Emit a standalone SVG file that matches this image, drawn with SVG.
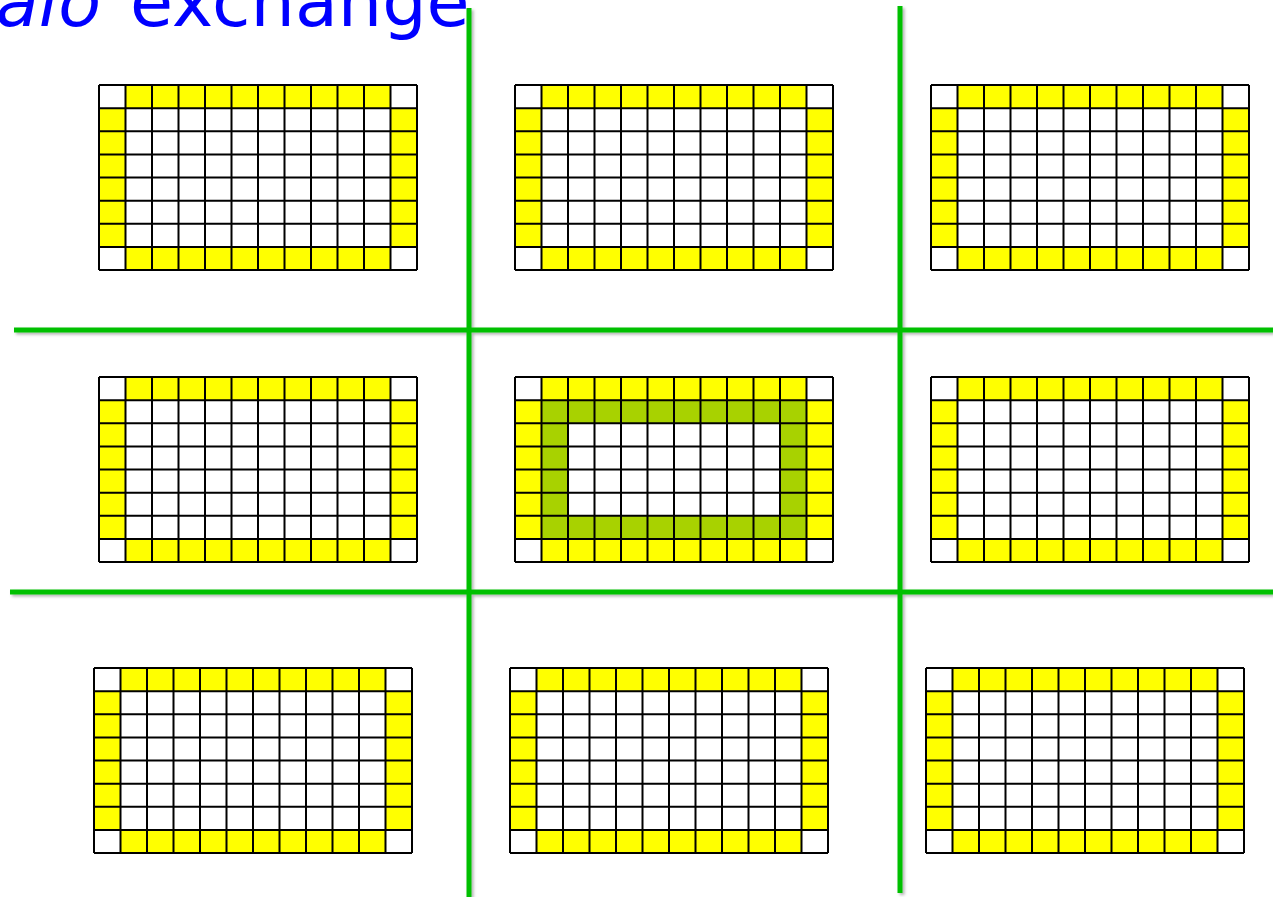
<svg xmlns="http://www.w3.org/2000/svg" xmlns:xlink="http://www.w3.org/1999/xlink" width="1273" height="897" viewBox="0 0 1273 897">
<style>
.title{font-family:"DejaVu Sans",Verdana,sans-serif;font-size:70px;fill:#0000FF}
.y{fill:#FFFF00}
.g{fill:#A8D200}
.grid{fill:none;stroke:#000;stroke-width:2}
.div{stroke:#00C000;stroke-width:5;fill:none}
</style>
<defs>
<filter id="sh" x="-5%" y="-5%" width="110%" height="110%">
<feDropShadow dx="2" dy="2" stdDeviation="1.5" flood-color="#000" flood-opacity="0.3"/>
</filter>
<g id="base">
<rect x="0" y="0" width="318" height="185" fill="#fff"/>
<rect class="y" x="26.5" y="0" width="265" height="23.125"/>
<rect class="y" x="26.5" y="161.875" width="265" height="23.125"/>
<rect class="y" x="0" y="23.125" width="26.5" height="138.75"/>
<rect class="y" x="291.5" y="23.125" width="26.5" height="138.75"/>
</g>
<path id="gridlines" class="grid" d="M0 0V185M26.5 0V185M53 0V185M79.5 0V185M106 0V185M132.5 0V185M159 0V185M185.5 0V185M212 0V185M238.5 0V185M265 0V185M291.5 0V185M318 0V185M0 0H318M0 23.125H318M0 46.25H318M0 69.375H318M0 92.5H318M0 115.625H318M0 138.75H318M0 161.875H318M0 185H318"/>
</defs>
<g id="title">
<text class="title" x="101" y="26" text-anchor="end" font-style="italic">halo</text>
<text class="title" x="130" y="26">exchange</text>
</g>
<g id="dividers" filter="url(#sh)">
<line class="div" x1="469" y1="8" x2="469" y2="897"/>
<line class="div" x1="900" y1="6" x2="900" y2="893"/>
<line class="div" x1="14" y1="330" x2="1273" y2="330"/>
<line class="div" x1="10" y1="592" x2="1273" y2="592"/>
</g>
<g id="p11" transform="translate(99,85)"><use xlink:href="#base"/><use xlink:href="#gridlines"/></g>
<g id="p12" transform="translate(515,85)"><use xlink:href="#base"/><use xlink:href="#gridlines"/></g>
<g id="p13" transform="translate(931,85)"><use xlink:href="#base"/><use xlink:href="#gridlines"/></g>
<g id="p21" transform="translate(99,377)"><use xlink:href="#base"/><use xlink:href="#gridlines"/></g>
<g id="p22" transform="translate(515,377)"><use xlink:href="#base"/>
<rect class="g" x="26.5" y="23.125" width="265" height="23.125"/>
<rect class="g" x="26.5" y="138.75" width="265" height="23.125"/>
<rect class="g" x="26.5" y="46.25" width="26.5" height="92.5"/>
<rect class="g" x="265" y="46.25" width="26.5" height="92.5"/>
<use xlink:href="#gridlines"/></g>
<g id="p23" transform="translate(931,377)"><use xlink:href="#base"/><use xlink:href="#gridlines"/></g>
<g id="p31" transform="translate(94,668)"><use xlink:href="#base"/><use xlink:href="#gridlines"/></g>
<g id="p32" transform="translate(510,668)"><use xlink:href="#base"/><use xlink:href="#gridlines"/></g>
<g id="p33" transform="translate(926,668)"><use xlink:href="#base"/><use xlink:href="#gridlines"/></g>
</svg>
